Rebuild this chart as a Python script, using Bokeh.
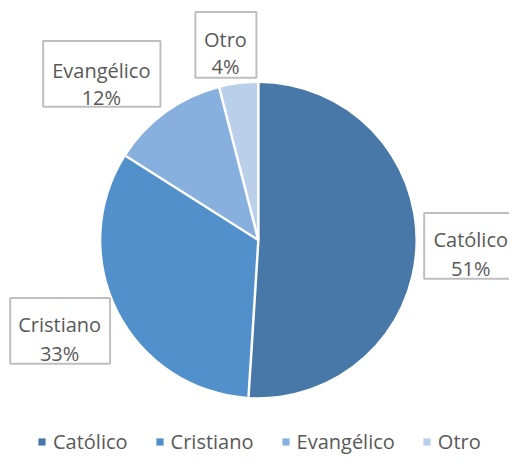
import numpy as np
from bokeh.plotting import figure
from bokeh.models import ColumnDataSource, Range1d, Legend, LegendItem
from bokeh.core.properties import value
from bokeh.embed import file_html
from bokeh.resources import INLINE

categories = ["Católico", "Cristiano", "Evangélico", "Otro"]
percentages = [51, 33, 12, 4]
colors = ["#4878A8", "#5190CA", "#88B0DE", "#B9CFEA"]

FONT = "Open Sans"
TXT = "#595959"
W, H = 509, 458          # figure pixels
RW, RH = 525, 474        # reference layout units

p = figure(width=W, height=H, x_range=Range1d(0, RW), y_range=Range1d(0, RH),
           output_backend="svg", toolbar_location=None, min_border=0)
p.axis.visible = False
p.grid.visible = False
p.outline_line_color = None


def sy(y):
    return RH - y


CX, CY, R = 266, sy(248), 162

frac = np.array(percentages, dtype=float) / sum(percentages)
cum = np.concatenate([[0.0], np.cumsum(frac)])
start = np.pi / 2 - cum[:-1] * 2 * np.pi
end = np.pi / 2 - cum[1:] * 2 * np.pi
src = ColumnDataSource(dict(cat=categories, start=start, end=end, color=colors))

r = p.wedge(x=CX, y=CY, radius=R, start_angle="start", end_angle="end",
            direction="clock", fill_color="color", line_color=None, source=src)
# white separators between slices
p.ray(x=CX, y=CY, length=R, angle="start", line_color="white", line_width=2.5, source=src)

# label boxes (reference px: left, top, right, bottom), text centre x and baselines
boxes = [(437, 220, 537, 288), (10, 308, 113, 376), (44, 42, 165, 110), (201, 12, 264, 80)]
text_cx = [485, 61, 104, 232]
base1 = [247, 335, 72, 40]
base2 = [277, 365, 100, 68]

bx = [(b[0] + b[2]) / 2 for b in boxes]
by = [sy((b[1] + b[3]) / 2) for b in boxes]
bw = [b[2] - b[0] for b in boxes]
bh = [b[3] - b[1] for b in boxes]
p.rect(x=bx, y=by, width=bw, height=bh, fill_color="white", line_color="#BFBFBF", line_width=2)

pct_labels = [f"{v}%" for v in percentages]
p.text(x=text_cx, y=[sy(v) for v in base1], text=categories,
       text_font=value(FONT), text_font_size="20px", text_color=TXT,
       text_align="center", text_baseline="alphabetic")
p.text(x=text_cx, y=[sy(v) for v in base2], text=pct_labels,
       text_font=value(FONT), text_font_size="20px", text_color=TXT,
       text_align="center", text_baseline="alphabetic")

legend = Legend(items=[LegendItem(label=c, renderers=[r], index=i) for i, c in enumerate(categories)],
                orientation="horizontal", location=(37, 3),
                label_text_font=FONT, label_text_font_size="20px", label_text_color=TXT,
                glyph_width=9, glyph_height=9, label_standoff=7, spacing=27,
                padding=0, margin=0, border_line_color=None, background_fill_alpha=0)
p.add_layout(legend)

open("out.html", "w").write(file_html(p, INLINE))
